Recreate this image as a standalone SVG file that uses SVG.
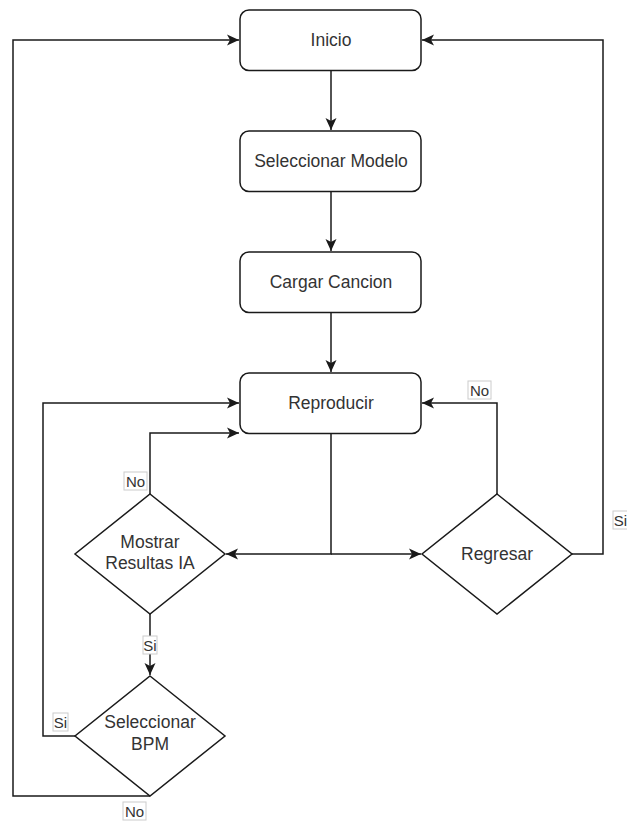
<svg xmlns="http://www.w3.org/2000/svg" width="627" height="823" viewBox="0 0 627 823">
<style>
.bg{fill:#ffffff}
.box{fill:#ffffff;stroke:#1a1a1a;stroke-width:1.5}
.t{font-family:"Liberation Sans",Arial,sans-serif;font-size:17.5px;fill:#333333;text-anchor:middle;dominant-baseline:central}
.e{fill:none;stroke:#1a1a1a;stroke-width:1.5}
.lb{fill:#ffffff;stroke:#cccccc;stroke-width:1}
.lt{font-family:"Liberation Sans",Arial,sans-serif;font-size:15px;fill:#333333;text-anchor:middle;dominant-baseline:central}
</style>
<defs>
<marker id="arr" markerUnits="userSpaceOnUse" markerWidth="14" markerHeight="14" viewBox="0 0 14 14" refX="12" refY="7" orient="auto">
<path d="M0,1.5 L12,7 L0,12.5 L3,7 Z" fill="#1a1a1a"/>
</marker>
</defs>
<rect class="bg" x="0" y="0" width="627" height="823"/>
<g id="connectors">
<path class="e" d="M331,70.5 V130" marker-end="url(#arr)"/>
<path class="e" d="M331,191.5 V251" marker-end="url(#arr)"/>
<path class="e" d="M331,312.5 V372" marker-end="url(#arr)"/>
<path class="e" d="M331,433.5 V554 H226" marker-end="url(#arr)"/>
<path class="e" d="M331,554 H421" marker-end="url(#arr)"/>
<path class="e" d="M150,494 V433 H239" marker-end="url(#arr)"/>
<path class="e" d="M150,614 V675" marker-end="url(#arr)"/>
<path class="e" d="M75,736 H43 V403 H239" marker-end="url(#arr)"/>
<path class="e" d="M150,796 H13 V40 H239" marker-end="url(#arr)"/>
<path class="e" d="M497,494 V403 H422" marker-end="url(#arr)"/>
<path class="e" d="M572,554 H603 V40 H422" marker-end="url(#arr)"/>
<g id="labels">
<rect class="lb" x="124" y="472" width="23" height="18"/><text class="lt" x="135.5" y="481">No</text>
<rect class="lb" x="143" y="636" width="14" height="18"/><text class="lt" x="150" y="645">Si</text>
<rect class="lb" x="53" y="713" width="15" height="18"/><text class="lt" x="60.5" y="722">Si</text>
<rect class="lb" x="123" y="802" width="23" height="18"/><text class="lt" x="134.5" y="811">No</text>
<rect class="lb" x="468" y="381" width="23" height="18"/><text class="lt" x="479.5" y="390">No</text>
<rect class="lb" x="613" y="511" width="15" height="18"/><text class="lt" x="620.5" y="520">Si</text>
</g>
</g>
<g id="inicio"><rect class="box" x="240" y="10" width="181" height="60.5" rx="9"/><text class="t" x="331" y="40">Inicio</text></g>
<g id="modelo"><rect class="box" x="240" y="131" width="181" height="60.5" rx="9"/><text class="t" x="331" y="161">Seleccionar Modelo</text></g>
<g id="cargar"><rect class="box" x="240" y="252" width="181" height="60.5" rx="9"/><text class="t" x="331" y="282">Cargar Cancion</text></g>
<g id="reproducir"><rect class="box" x="240" y="373" width="181" height="60.5" rx="9"/><text class="t" x="331" y="403">Reproducir</text></g>
<g id="mostrar"><path class="box" d="M150,494 L225,554 L150,614 L75,554 Z"/><text class="t" x="150" y="542">Mostrar</text><text class="t" x="150" y="563">Resultas IA</text></g>
<g id="bpm"><path class="box" d="M150,676 L225,736 L150,796 L75,736 Z"/><text class="t" x="150" y="722">Seleccionar</text><text class="t" x="150" y="744">BPM</text></g>
<g id="regresar"><path class="box" d="M497,494 L572,554 L497,614 L422,554 Z"/><text class="t" x="497" y="554">Regresar</text></g>
</svg>
